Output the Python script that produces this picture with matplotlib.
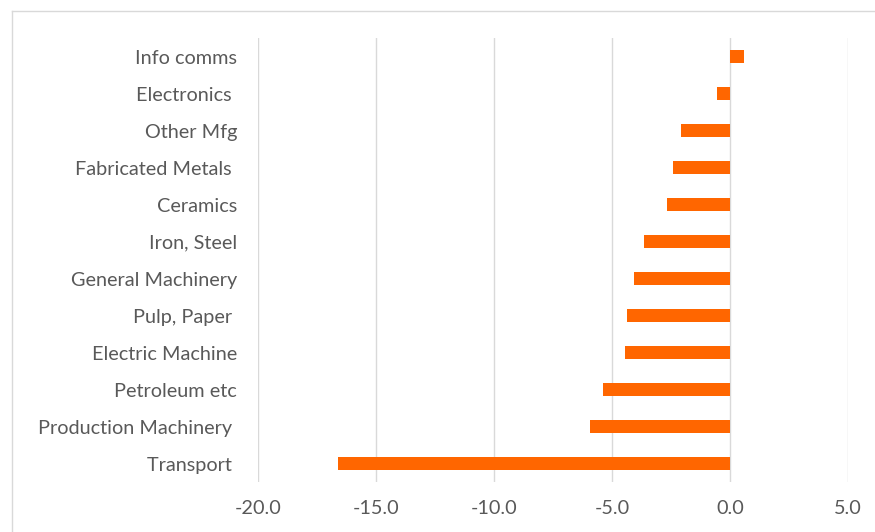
import matplotlib.pyplot as plt
from matplotlib.lines import Line2D

categories = ['Info comms', 'Electronics ', 'Other Mfg', 'Fabricated Metals ', 'Ceramics',
              'Iron, Steel', 'General Machinery', 'Pulp, Paper ', 'Electric Machine',
              'Petroleum etc', 'Production Machinery ', 'Transport ']
values = [0.58, -0.55, -2.09, -2.43, -2.69, -3.65, -4.08, -4.35, -4.47, -5.39, -5.93, -16.63]
xticks = [-20, -15, -10, -5, 0, 5]

plt.rcParams['font.family'] = ['Lato', 'DejaVu Sans']
text_color = '#595959'
grid_color = '#d9d9d9'

W, H = 875, 532
fig = plt.figure(figsize=(W / 100, H / 100), dpi=100)
ax = fig.add_axes([258 / W, 1 - 482 / H, (848 - 258) / W, (482 - 38) / H])

pos = list(range(len(categories)))
ax.barh(pos, values, height=0.34, color='#FF6600', zorder=3)
ax.set_ylim(len(categories) - 0.5, -0.5)
ax.set_yticks(pos)
ax.set_yticklabels(categories)

ax.set_xlim(-20, 5)
ax.set_xticks(xticks)
ax.set_xticklabels(['%.1f' % t for t in xticks])

ax.grid(axis='x', color=grid_color, linewidth=1.0, zorder=0)
for s in ax.spines.values():
    s.set_visible(False)
ax.tick_params(axis='both', length=0, labelsize=14.3, colors=text_color)
ax.tick_params(axis='y', pad=15)
ax.tick_params(axis='x', pad=13)

# chart area outline
fig.add_artist(Line2D([12 / W, 1], [1 - 11 / H, 1 - 11 / H], color=grid_color, linewidth=1.0))
fig.add_artist(Line2D([12 / W, 12 / W], [0, 1 - 11 / H], color=grid_color, linewidth=1.0))

fig.savefig('out.png', dpi=100)
